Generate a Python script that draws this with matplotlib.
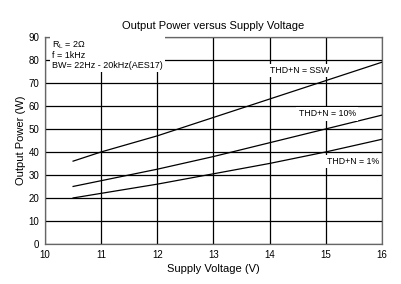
import numpy as np
import matplotlib
matplotlib.use("Agg")
from matplotlib import pyplot as plt

plt.rcParams['font.family'] = ['Liberation Sans', 'DejaVu Sans']

# supply voltage (V)
volts = [10.5, 11, 12, 13, 14, 15, 16]
# output power (W) per THD+N condition
p_ssw = [36, 40, 47, 55, 63, 71, 79]
p_10 = [25, 27.5, 32.5, 38, 44, 50, 56]
p_1 = [20, 22, 26, 30.5, 35, 40, 45.5]

fig = plt.figure(figsize=(4.02, 2.84), dpi=100)
ax = fig.add_axes([0.112, 0.141, 0.838, 0.729])

for ys in (p_ssw, p_10, p_1):
    ax.plot(volts, ys, color='black', lw=0.9, zorder=3)

ax.set_xlim(10, 16)
ax.set_ylim(0, 90)
ax.set_xticks(np.arange(10, 17, 1))
ax.set_yticks(np.arange(0, 91, 10))
ax.grid(True, color='black', lw=0.9)
ax.tick_params(length=0, labelsize=7, pad=4)
for s in ax.spines.values():
    s.set_linewidth(0.9)
    s.set_color('#666666')

ax.set_title('Output Power versus Supply Voltage', fontsize=8, pad=6)
ax.set_xlabel('Supply Voltage (V)', fontsize=8, labelpad=3)
ax.set_ylabel('Output Power (W)', fontsize=8, labelpad=2)

box = dict(facecolor='white', edgecolor='none', pad=1.5)
ax.text(10.12, 89, 'R$_\\mathregular{L}$ = 2\u03a9\nf = 1kHz\nBW= 22Hz - 20kHz(AES17)',
        fontsize=6.5, va='top', ha='left', linespacing=1.1, bbox=box, zorder=4)
ax.text(14.01, 75.5, 'THD+N = SSW', fontsize=6.3, va='center', ha='left', bbox=box, zorder=4)
ax.text(15.53, 56.5, 'THD+N = 10%', fontsize=6.3, va='center', ha='right', bbox=box, zorder=4)
ax.text(15.95, 36, 'THD+N = 1%', fontsize=6.3, va='center', ha='right', bbox=box, zorder=4)

fig.savefig('out.png', dpi=100)
